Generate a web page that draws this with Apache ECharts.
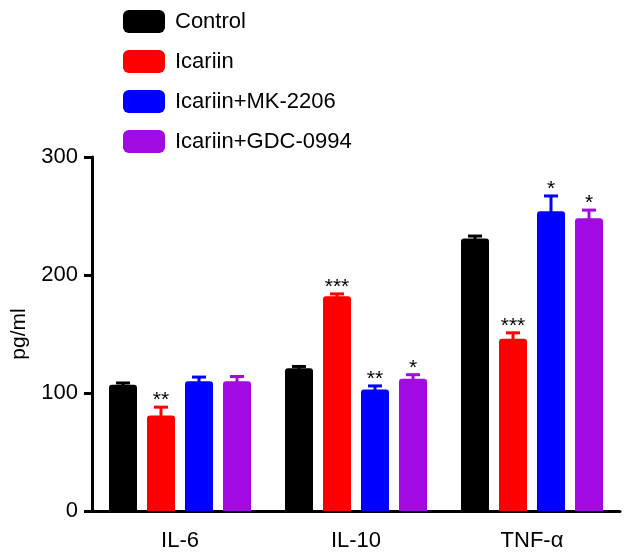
<!DOCTYPE html>
<html>
<head>
<meta charset="utf-8">
<script src="https://cdn.jsdelivr.net/npm/echarts@6/dist/echarts.min.js"></script>
<style>html,body{margin:0;padding:0;background:#fff}#c{width:631px;height:554px}</style>
</head>
<body>
<div id="c"></div>
<script>
var categories = ['IL-6', 'IL-10', 'TNF-\u03b1'];
var seriesNames = ['Control', 'Icariin', 'Icariin+MK-2206', 'Icariin+GDC-0994'];
var controlValues = [107, 121, 231];
var controlErrors = [1.5, 1.5, 2];
var controlSig = ['', '', ''];
var icariinValues = [81, 182, 146];
var icariinErrors = [7, 2, 5];
var icariinSig = ['**', '***', '***'];
var mkValues = [110, 103, 254];
var mkErrors = [3.5, 3, 13];
var mkSig = ['', '**', '*'];
var gdcValues = [110, 112, 248];
var gdcErrors = [4, 3.5, 7];
var gdcSig = ['', '*', '*'];
var yTicks = [0, 100, 200, 300];

var colors = ['#000000', '#ff0000', '#0000ff', '#a10ae0'];
var allValues = [controlValues, icariinValues, mkValues, gdcValues];
var allErrors = [controlErrors, icariinErrors, mkErrors, gdcErrors];
var allSig = [controlSig, icariinSig, mkSig, gdcSig];

var BAR_W = 28, BAR_GAP = 10, CAP_W = 14;
var FONT = '"Liberation Sans", Arial, Helvetica, sans-serif';

var series = [];
allValues.forEach(function (vals, si) {
  series.push({
    name: seriesNames[si],
    type: 'bar',
    data: vals,
    barWidth: BAR_W,
    barGap: (BAR_GAP / BAR_W * 100) + '%',
    itemStyle: { color: colors[si], borderRadius: [3, 3, 0, 0] },
    z: 2
  });
});
allValues.forEach(function (vals, si) {
  var data = vals.map(function (v, ci) { return [ci, v, allErrors[si][ci], allSig[si][ci]]; });
  series.push({
    name: seriesNames[si] + ' err',
    type: 'custom',
    data: data,
    z: 3,
    silent: true,
    renderItem: function (params, api) {
      var ci = api.value(0), v = api.value(1), e = api.value(2);
      var sig = data[params.dataIndex][3];
      var base = api.coord([ci, v]);
      var top = api.coord([ci, v + e]);
      var x = base[0] + (si - 1.5) * (BAR_W + BAR_GAP);
      var ty = top[1];
      var children = [
        { type: 'line', shape: { x1: x, y1: base[1] + 2, x2: x, y2: ty }, style: { stroke: colors[si], lineWidth: 3 } },
        { type: 'line', shape: { x1: x - CAP_W / 2, y1: ty, x2: x + CAP_W / 2, y2: ty }, style: { stroke: colors[si], lineWidth: 3 } }
      ];
      if (sig) {
        children.push({ type: 'text', style: { text: sig, x: x, y: ty + 4, align: 'center', verticalAlign: 'bottom', fill: '#000', font: '21px ' + FONT } });
      }
      return { type: 'group', children: children };
    }
  });
});

var chart = echarts.init(document.getElementById('c'));
chart.setOption({
  backgroundColor: '#fff',
  animation: false,
  legend: {
    data: seriesNames,
    orient: 'vertical',
    left: 118, top: 5,
    itemWidth: 42, itemHeight: 23, itemGap: 17,
    icon: 'roundRect',
    textStyle: { fontSize: 22, color: '#000', fontFamily: FONT, padding: [0, 0, 0, 5] }
  },
  grid: { left: 92, right: 11, top: 157, bottom: 43, containLabel: false },
  xAxis: {
    type: 'category',
    data: categories,
    axisLine: { lineStyle: { color: '#000', width: 3 } },
    axisTick: { alignWithLabel: true, length: 8, lineStyle: { color: '#000', width: 3 } },
    axisLabel: { fontSize: 22, color: '#000', fontFamily: FONT, margin: 19 }
  },
  yAxis: {
    type: 'value',
    min: yTicks[0], max: yTicks[yTicks.length - 1], interval: 100,
    name: 'pg/ml',
    nameLocation: 'middle',
    nameGap: 62,
    nameTextStyle: { fontSize: 21, color: '#000', fontFamily: FONT },
    axisLine: { show: true, lineStyle: { color: '#000', width: 3 } },
    axisTick: { show: true, length: 8, lineStyle: { color: '#000', width: 3 } },
    axisLabel: { fontSize: 22, color: '#000', fontFamily: FONT, margin: 14 },
    splitLine: { show: false }
  },
  series: series
});
</script>
</body>
</html>
